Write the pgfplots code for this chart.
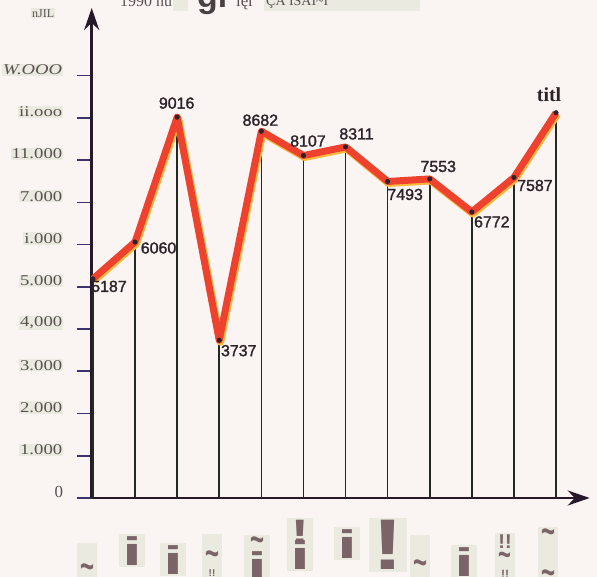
\documentclass[border=0pt]{standalone}
\usepackage{fontspec}
\setmainfont{Liberation Serif}
\setsansfont{Liberation Sans}
\newfontfamily\lblfont{Liberation Sans}[FakeBold=1.6]
\usepackage{pgfplots}
\usepackage{pgfplotstable}
\pgfplotsset{compat=1.18}
\usetikzlibrary{arrows.meta}

\definecolor{bg}{RGB}{250,245,243}
\definecolor{axisc}{RGB}{40,25,40}
\definecolor{tickc}{RGB}{60,50,110}
\definecolor{labc}{RGB}{90,80,82}
\definecolor{boxc}{RGB}{234,234,224}
\definecolor{linec}{RGB}{238,66,46}
\definecolor{haloc}{RGB}{250,185,60}
\definecolor{dropc}{RGB}{35,40,35}
\definecolor{valc}{RGB}{45,35,42}
\definecolor{glyphc}{RGB}{122,100,104}

\newcommand\lb[1]{{\setlength\fboxsep{1pt}\colorbox{boxc}{\scalebox{1.25}[1]{#1}}}}
\newcommand\wi{{\fontsize{40}{40}\selectfont\scalebox{1.8}[1]{i}}}
\newcommand\ti[1]{{\fontsize{#1}{#1}\selectfont\scalebox{1}[1.6]{\textasciitilde}}}
\newcommand\glyph[3]{\node[anchor=north, fill=boxc, inner xsep=3bp, inner ysep=2bp, text=glyphc,
  font=\sffamily\bfseries, align=center] at (#1,{577-#2}) {#3};}

% value, label, label centre offset from the point (bp)
\pgfplotstableread[col sep=comma]{
x,y,lab,dx,dy
0,5187,5187,16,-7.5
1,6060,6060,23.5,-6
2,9016,9016,-0.5,14
3,3737,3737,19.5,-10.5
4,8682,8682,-1,11
5,8107,8107,4.5,14.5
6,8311,8311,11,13
7,7493,7493,17.5,-13
8,7553,7553,8.5,12.5
9,6772,6772,20,-10
10,7587,7587,21,-8
11,9120,,-7,17
}\data

\begin{document}
\begin{tikzpicture}[x=1bp,y=1bp]
\path[use as bounding box] (0,0) rectangle (597,577);
\fill[bg] (0,0) rectangle (597,577);

% scanned heading fragments
\fill[boxc] (173,566) rectangle (188,577);
\fill[boxc] (264,566) rectangle (420,577);
\node[anchor=base west, inner sep=0, text=labc, font=\fontsize{16}{16}\selectfont] at (120,570) {1990 nu};
\node[anchor=base west, inner sep=0, text=labc!80!black, font=\sffamily\bfseries\fontsize{34}{34}\selectfont] at (197,569) {gr};
\node[anchor=base west, inner sep=0, text=labc, font=\fontsize{17}{17}\selectfont] at (236,570) {lęr};
\node[anchor=base west, inner sep=0, text=labc, font=\fontsize{14}{14}\selectfont] at (266,571) {ÇA ISAI\textasciitilde I};
\node[anchor=north west, fill=boxc, inner sep=1pt, text=labc, font=\fontsize{12}{12}\selectfont] at (31,569) {nJIL};

\begin{axis}[
    at={(91.7bp,79bp)}, anchor=south west,
    scale only axis, width=498bp, height=490bp,
    xmin=-0.03, xmax=11.8, ymin=0, ymax=11600,
    axis lines=left,
    axis line style={axisc, line width=3pt, -{Stealth[length=22bp,width=15bp]}},
    xtick=\empty,
    ytick={0,1000,...,10000},
    yticklabels={{\fontsize{17}{17}\selectfont 0},\lb{1.000},\lb{2.000},\lb{3.000},\lb{4,000},\lb{5.000},\lb{i.000},\lb{7.000},\lb{11.000},\lb{ii.ooo},\lb{\textit{W.OOO}}},
    ytick style={tickc, line width=1.6pt},
    major tick length=15bp,
    tick align=outside,
    yticklabel style={text=labc, font=\fontsize{15}{15}\selectfont, yshift=6bp, xshift=-10bp},
    clip=false,
]
\addplot[ycomb, dropc, line width=1.6pt, mark=none] table[x=x, y=y] {\data};
\addplot[haloc, line width=8pt, line join=round, xshift=1bp, yshift=-1.5bp] table[x=x, y=y] {\data};
\addplot[linec, line width=7pt, line join=round] table[x=x, y=y] {\data};
\addplot[only marks, mark=*, mark size=2.3pt, valc,
    nodes near coords, point meta=explicit symbolic,
    visualization depends on={\thisrow{dx}\as\dx},
    visualization depends on={\thisrow{dy}\as\dy},
    every node near coord/.append style={anchor=center, xshift=\dx bp, yshift=\dy bp,
      inner sep=1pt, text=valc, font=\lblfont\fontsize{16}{16}\selectfont}]
  table[x=x, y=y, meta=lab] {\data};
\node[anchor=center, inner sep=1pt, text=valc, font=\bfseries\fontsize{20}{20}\selectfont]
  at (axis cs:11,9120) [xshift=-7bp, yshift=18bp] {titl};
\end{axis}

% scanned axis-label fragments
\glyph{87}{543}{\rule{0pt}{34bp}\ti{24}}
\glyph{132}{534}{\wi}
\glyph{173}{543}{\wi}
\glyph{212}{534}{\rule{0pt}{30bp}\ti{24}\\[-2pt]{\fontsize{10}{10}\selectfont !!}}
\glyph{257}{535}{\ti{24}\\[-2pt]\wi}
\glyph{300}{518}{{\fontsize{34}{30}\selectfont\scalebox{1.6}[1]{!}}\\[-4pt]\wi}
\glyph{347}{527}{\wi}
\glyph{388}{518}{{\fontsize{72}{72}\selectfont\scalebox{1.3}[1]{!}}}
\glyph{420}{535}{\rule{0pt}{38bp}\ti{24}}
\glyph{464}{545}{\wi}
\glyph{505}{533}{{\fontsize{20}{20}\selectfont !!}\\[2pt]\ti{22}\\[0pt]{\fontsize{12}{12}\selectfont !!}}
\glyph{548}{527}{\ti{24}\\[24pt]\ti{24}}
\end{tikzpicture}
\end{document}
